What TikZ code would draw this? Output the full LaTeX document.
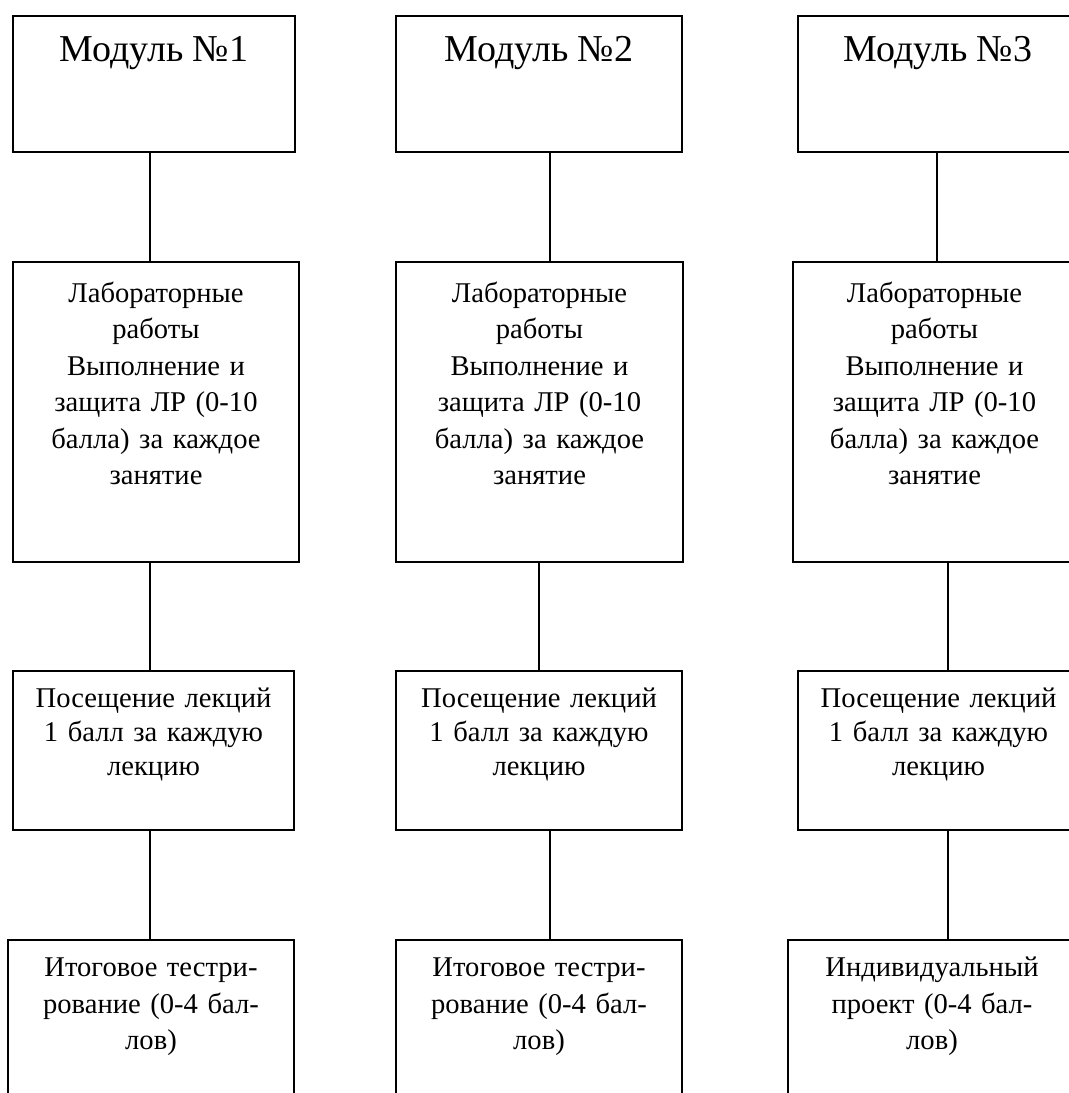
\documentclass[tikz,border=0pt]{standalone}
\usepackage{fontspec}
\setmainfont{Liberation Serif}
\usetikzlibrary{positioning}

\tikzset{
  blk/.style={draw, line width=1pt, outer sep=0pt, anchor=north west, inner sep=0pt},
  txt/.style={anchor=base, inner sep=0pt, text width=135pt, align=center,
    font=\fontsize{14.3}{18.25}\selectfont},
  ttl/.style={anchor=base, inner sep=0pt, font=\fontsize{19}{23}\selectfont},
  lnk/.style={line width=1pt}
}

\begin{document}
\begin{tikzpicture}[x=0.5pt,y=-0.5pt]
\useasboundingbox (0,0) rectangle (1069,1093);
\clip (0,0) rectangle (1069,1093);
% module 1
\node [blk, minimum width=141pt, minimum height=68pt] (m1) at (13,16) {};
\node [ttl] (m1t) at ([yshift=-22.5pt]m1.north) {Модуль №1};
\node [blk, minimum width=143pt, minimum height=150pt] (lab1) at (13,262) {};
\node [txt] (lab1t) at ([yshift=-20pt]lab1.north) {Лабораторные\\работы\\Выполнение и\\защита ЛР (0-10\\балла) за каждое\\занятие};
\node [blk, minimum width=140.5pt, minimum height=79.5pt] (pos1) at (13,671) {};
\node [txt, font=\fontsize{14.3}{17}\selectfont] (pos1t) at ([yshift=-18.25pt]pos1.north) {Посещение лекций\\1 балл за каждую\\лекцию};
\node [blk, minimum width=143pt, minimum height=100pt] (res1) at (8,940) {};
\node [txt] (res1t) at ([yshift=-18.3pt]res1.north) {Итоговое тестри-\\рование (0-4 бал-\\лов)};
% module 2
\node [blk, minimum width=143pt, minimum height=68pt] (m2) at (396,16) {};
\node [ttl] (m2t) at ([yshift=-22.5pt]m2.north) {Модуль №2};
\node [blk, minimum width=143.5pt, minimum height=150pt] (lab2) at (396,262) {};
\node [txt] (lab2t) at ([yshift=-20pt]lab2.north) {Лабораторные\\работы\\Выполнение и\\защита ЛР (0-10\\балла) за каждое\\занятие};
\node [blk, minimum width=143pt, minimum height=79.5pt] (pos2) at (396,671) {};
\node [txt, font=\fontsize{14.3}{17}\selectfont] (pos2t) at ([yshift=-18.25pt]pos2.north) {Посещение лекций\\1 балл за каждую\\лекцию};
\node [blk, minimum width=143pt, minimum height=100pt] (res2) at (396,940) {};
\node [txt] (res2t) at ([yshift=-18.3pt]res2.north) {Итоговое тестри-\\рование (0-4 бал-\\лов)};
% module 3
\node [blk, minimum width=140pt, minimum height=68pt] (m3) at (798,16) {};
\node [ttl] (m3t) at ([yshift=-22.5pt]m3.north) {Модуль №3};
\node [blk, minimum width=141.5pt, minimum height=150pt] (lab3) at (793,262) {};
\node [txt] (lab3t) at ([yshift=-20pt]lab3.north) {Лабораторные\\работы\\Выполнение и\\защита ЛР (0-10\\балла) за каждое\\занятие};
\node [blk, minimum width=140.5pt, minimum height=79.5pt] (pos3) at (798,671) {};
\node [txt, font=\fontsize{14.3}{17}\selectfont] (pos3t) at ([yshift=-18.25pt]pos3.north) {Посещение лекций\\1 балл за каждую\\лекцию};
\node [blk, minimum width=144pt, minimum height=100pt] (res3) at (788,940) {};
\node [txt] (res3t) at ([yshift=-18.3pt]res3.north) {Индивидуальный\\проект (0-4 бал-\\лов)};
% connector positions
\coordinate (a1) at (150,0);
\coordinate (a2) at (550,0);
\coordinate (b2) at (539,0);
\coordinate (a3) at (937,0);
\coordinate (b3) at (948,0);
\draw [lnk] (m1.south -| a1) -- (lab1.north -| a1);
\draw [lnk] (lab1.south -| a1) -- (pos1.north -| a1);
\draw [lnk] (pos1.south -| a1) -- (res1.north -| a1);
\draw [lnk] (m2.south -| a2) -- (lab2.north -| a2);
\draw [lnk] (lab2.south -| b2) -- (pos2.north -| b2);
\draw [lnk] (pos2.south -| a2) -- (res2.north -| a2);
\draw [lnk] (m3.south -| a3) -- (lab3.north -| a3);
\draw [lnk] (lab3.south -| b3) -- (pos3.north -| b3);
\draw [lnk] (pos3.south -| b3) -- (res3.north -| b3);
\end{tikzpicture}
\end{document}
